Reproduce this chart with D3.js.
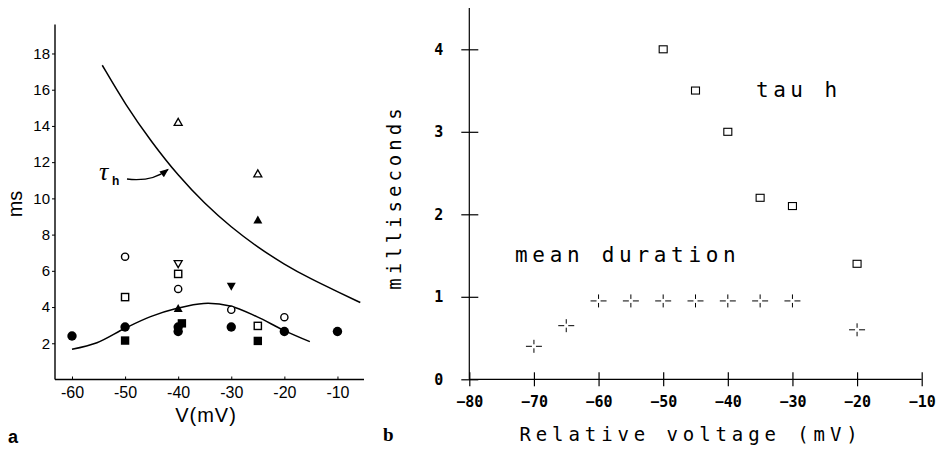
<!DOCTYPE html>
<html>
<head>
<meta charset="utf-8">
<script src="https://cdn.jsdelivr.net/npm/d3@7/dist/d3.min.js"></script>
<style>
  html, body { margin: 0; padding: 0; background: #fff; }
  svg { display: block; }
</style>
</head>
<body>
<svg id="chart" width="945" height="455"></svg>
<script>
// ---------- Panel a: time constants vs membrane potential ----------
const aTicksX = [-60, -50, -40, -30, -20, -10];
const aTicksY = [2, 4, 6, 8, 10, 12, 14, 16, 18];

// measured points, [V (mV), ms], grouped by symbol
const filledCircles = [[-60, 2.4], [-50, 2.9], [-40, 2.65], [-40, 2.9], [-30, 2.9], [-20, 2.65], [-10, 2.65]];
const filledSquares = [[-50, 2.15], [-39.3, 3.1], [-25, 2.13]];
const openCircles = [[-50, 6.78], [-40, 5.0], [-30, 3.85], [-20, 3.44]];
const openSquares = [[-50, 4.55], [-40, 5.83], [-25, 2.96]];
const openTriangles = [[-40, 14.2], [-25, 11.35]];
const filledTriangles = [[-40, 3.92], [-25, 8.8]];
const openDownTriangles = [[-40, 6.4]];
const filledDownTriangles = [[-30, 5.15]];

// tau_h curve and the bell-shaped fit
const tauCurveV = [-54.3, -50, -45, -40, -35, -30, -25, -20, -15, -10, -5.7];
const tauCurveMs = [17.35, 15.2, 13.1, 11.25, 9.7, 8.4, 7.3, 6.35, 5.55, 4.85, 4.25];
const bellV = [-60, -55.3, -50, -45.2, -40.2, -35.2, -30.2, -25.2, -20.2, -15.2];
const bellMs = [1.67, 2.03, 2.83, 3.47, 3.93, 4.2, 4.06, 3.47, 2.73, 2.09];

// ---------- Panel b: tau h and mean open duration ----------
const bTicksX = [-80, -70, -60, -50, -40, -30, -20, -10];
const bTicksY = [0, 1, 2, 3, 4];
const tauHV = [-50, -45, -40, -35, -30, -20];
const tauHMs = [4.0, 3.5, 3.0, 2.2, 2.1, 1.4];
const meanDurV = [-70, -65, -60, -55, -50, -45, -40, -35, -30, -20];
const meanDurMs = [0.4, 0.65, 0.95, 0.95, 0.95, 0.95, 0.95, 0.95, 0.95, 0.6];

const SANS = "Liberation Sans, Arial, sans-serif";
const MONO = "DejaVu Sans Mono, Liberation Mono, monospace";

const svg = d3.select("#chart");

// ===== Panel a =====
const xA = d3.scaleLinear().domain([-63.2, -5]).range([55, 364]);
const yA = d3.scaleLinear().domain([0, 19.6]).range([379.5, 24.5]);

const gA = svg.append("g").attr("font-family", SANS);

// axis lines
gA.append("line").attr("x1", xA(-63.2)).attr("x2", xA(-63.2))
  .attr("y1", yA(0)).attr("y2", yA(19.6)).attr("stroke", "#000").attr("stroke-width", 1.4);
gA.append("line").attr("x1", xA(-63.2)).attr("x2", xA(-5))
  .attr("y1", yA(0)).attr("y2", yA(0)).attr("stroke", "#000").attr("stroke-width", 1.4);

const axAY = d3.axisLeft(yA).tickValues(aTicksY).tickSize(3).tickPadding(2).tickFormat(d3.format("d"));
const gAY = gA.append("g").attr("transform", `translate(${xA(-63.2)},0)`).call(axAY);
gAY.select(".domain").remove();
gAY.selectAll("text").attr("font-size", 15).attr("fill", "#000").attr("font-family", SANS);

const axAX = d3.axisTop(xA).tickValues(aTicksX).tickSize(3).tickFormat(d => String(d));
const gAX = gA.append("g").attr("transform", `translate(0,${yA(0)})`).call(axAX);
gAX.select(".domain").remove();
gAX.selectAll("text").attr("y", 18).attr("dy", 0).attr("font-size", 16).attr("fill", "#000")
  .attr("font-family", SANS);

gA.append("text").attr("x", 206).attr("y", 422).attr("text-anchor", "middle")
  .attr("font-size", 20).attr("letter-spacing", 1).text("V(mV)");
gA.append("text").attr("transform", "translate(22,204) rotate(-90)").attr("text-anchor", "middle")
  .attr("font-size", 20).text("ms");
gA.append("text").attr("x", 8).attr("y", 443).attr("font-size", 18).attr("font-weight", "bold")
  .attr("font-family", SANS).text("a");

// curves
gA.append("path").datum(d3.zip(tauCurveV, tauCurveMs))
  .attr("d", d3.line().x(d => xA(d[0])).y(d => yA(d[1])).curve(d3.curveBasis))
  .attr("fill", "none").attr("stroke", "#000").attr("stroke-width", 1.5);
gA.append("path").datum(d3.zip(bellV, bellMs))
  .attr("d", d3.line().x(d => xA(d[0])).y(d => yA(d[1])).curve(d3.curveCatmullRom))
  .attr("fill", "none").attr("stroke", "#000").attr("stroke-width", 1.5);

// tau_h label with arrow to the curve
svg.append("defs").append("marker").attr("id", "arrowhead")
  .attr("viewBox", "0 0 10 10").attr("refX", 9).attr("refY", 5)
  .attr("markerWidth", 7).attr("markerHeight", 7).attr("orient", "auto")
  .append("path").attr("d", "M0,1 L10,5 L0,9 Z").attr("fill", "#000");
gA.append("text").attr("x", 99).attr("y", 180).attr("font-family", "Liberation Serif")
  .attr("font-style", "italic").attr("font-size", 26).text("τ");
gA.append("text").attr("x", 112).attr("y", 185).attr("font-family", SANS)
  .attr("font-size", 12).attr("font-weight", "bold").text("h");
const ax0 = 127, ay0 = 179, ax1 = xA(-41.9), ay1 = yA(11.6);
gA.append("path")
  .attr("d", `M${ax0},${ay0} Q${ax0 + 25},${ay0 + 3} ${ax1},${ay1}`)
  .attr("fill", "none").attr("stroke", "#000").attr("stroke-width", 1.3)
  .attr("marker-end", "url(#arrowhead)");

// symbols
function pts(data) { return gA.append("g").selectAll("g").data(data).join("g")
  .attr("transform", d => `translate(${xA(d[0])},${yA(d[1])})`); }

pts(filledCircles).append("circle").attr("r", 4.7).attr("fill", "#000");
pts(openCircles).append("circle").attr("r", 3.6).attr("fill", "#fff").attr("stroke", "#000").attr("stroke-width", 1.4);
pts(filledSquares).append("rect").attr("x", -4.2).attr("y", -4.2).attr("width", 8.4).attr("height", 8.4).attr("fill", "#000");
pts(openSquares).append("rect").attr("x", -3.6).attr("y", -3.6).attr("width", 7.2).attr("height", 7.2)
  .attr("fill", "#fff").attr("stroke", "#000").attr("stroke-width", 1.4);
const tri = "M0,-4 L4,3 L-4,3 Z", triDown = "M0,4 L4,-3 L-4,-3 Z";
pts(openTriangles).append("path").attr("d", tri).attr("fill", "#fff").attr("stroke", "#000").attr("stroke-width", 1.3);
pts(filledTriangles).append("path").attr("d", "M0,-4.5 L4.5,3.5 L-4.5,3.5 Z").attr("fill", "#000");
pts(openDownTriangles).append("path").attr("d", triDown).attr("fill", "#fff").attr("stroke", "#000").attr("stroke-width", 1.3);
pts(filledDownTriangles).append("path").attr("d", "M0,4.5 L4.5,-3.5 L-4.5,-3.5 Z").attr("fill", "#000");

// ===== Panel b =====
const xB = d3.scaleLinear().domain([-80, -10]).range([469.3, 921.7]);
const yB = d3.scaleLinear().domain([0, 4]).range([379.3, 49.3]);
const gB = svg.append("g").attr("font-family", MONO);

gB.append("line").attr("x1", xB(-80)).attr("x2", xB(-80)).attr("y1", yB(0)).attr("y2", yB(4.5))
  .attr("stroke", "#000").attr("stroke-width", 1.2);
gB.append("line").attr("x1", xB(-80)).attr("x2", xB(-10)).attr("y1", yB(0)).attr("y2", yB(0))
  .attr("stroke", "#000").attr("stroke-width", 1.2);

const gBY = gB.append("g").attr("transform", `translate(${xB(-80)},0)`)
  .call(d3.axisLeft(yB).tickValues(bTicksY).tickSize(8).tickFormat(d3.format("d")));
gBY.select(".domain").remove();
gBY.selectAll("line").attr("x1", -8).attr("x2", 9).attr("stroke-width", 1.2);
gBY.selectAll("text").attr("x", -26).attr("font-size", 15).attr("font-weight", "bold")
  .attr("font-family", MONO).attr("fill", "#000");

const gBX = gB.append("g").attr("transform", `translate(0,${yB(0)})`)
  .call(d3.axisBottom(xB).tickValues(bTicksX).tickSize(7).tickFormat(d => d < 0 ? "\u2212" + Math.abs(d) : d));
gBX.select(".domain").remove();
gBX.selectAll("line").attr("y1", -7).attr("y2", 7).attr("stroke-width", 1.2);
gBX.selectAll("text").attr("y", 27.5).attr("dy", 0).attr("font-size", 15).attr("font-weight", "bold")
  .attr("font-family", MONO).attr("fill", "#000");

gB.append("text").attr("x", 691).attr("y", 441).attr("text-anchor", "middle")
  .attr("font-size", 19).attr("letter-spacing", 4.9).text("Relative voltage (mV)");
gB.append("text").attr("transform", "translate(401,197) rotate(-90)").attr("text-anchor", "middle")
  .attr("font-size", 19).attr("letter-spacing", 4).text("milliseconds");
gB.append("text").attr("x", 756).attr("y", 97).attr("font-size", 21).attr("letter-spacing", 4.5).text("tau h");
gB.append("text").attr("x", 515).attr("y", 262).attr("font-size", 21).attr("letter-spacing", 4.7).text("mean duration");
svg.append("text").attr("x", 383).attr("y", 441).attr("font-family", "Liberation Serif")
  .attr("font-weight", "bold").attr("font-size", 19).text("b");

// tau h squares
gB.append("g").selectAll("rect").data(d3.zip(tauHV, tauHMs)).join("rect")
  .attr("x", d => xB(d[0]) - 4).attr("y", d => yB(d[1]) - 3.5).attr("width", 8).attr("height", 7)
  .attr("fill", "none").attr("stroke", "#000").attr("stroke-width", 1.1);

// mean duration crosses (open centre)
const cross = gB.append("g").selectAll("g").data(d3.zip(meanDurV, meanDurMs)).join("g")
  .attr("transform", d => `translate(${xB(d[0])},${yB(d[1])})`)
  .attr("stroke", "#000").attr("stroke-width", 1);
[[-8, 0, -2, 0], [2, 0, 8, 0], [0, -6.5, 0, -2], [0, 2, 0, 6.5]].forEach(s => {
  cross.append("line").attr("x1", s[0]).attr("y1", s[1]).attr("x2", s[2]).attr("y2", s[3]);
});
</script>
</body>
</html>
